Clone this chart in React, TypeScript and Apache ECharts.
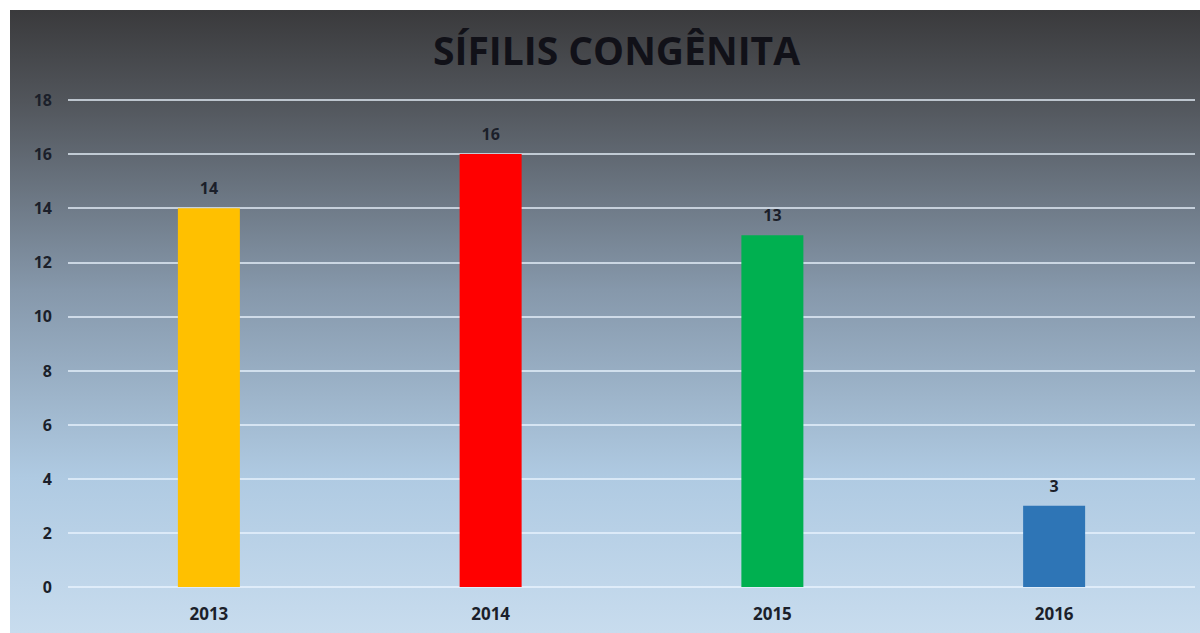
import React, { useEffect, useRef } from "react";
import * as echarts from "echarts";

const categories = ["2013", "2014", "2015", "2016"];
const values = [14, 16, 13, 3];
const barColors = ["#ffc000", "#ff0000", "#00b050", "#2e75b6"];
const yTicks = [0, 2, 4, 6, 8, 10, 12, 14, 16, 18];
const titleText = "SÍFILIS CONGÊNITA";

export default function App() {
  const ref = useRef<HTMLDivElement>(null);
  useEffect(() => {
    if (!ref.current) return;
    const chart = echarts.init(ref.current, null, { renderer: "svg" });
    const font = "'Open Sans', sans-serif";
    chart.setOption({
      animation: false,
      backgroundColor: {
        type: "linear",
        x: 0, y: 0, x2: 0, y2: 1,
        colorStops: [
          { offset: 0, color: "#3a3a3c" },
          { offset: 0.15, color: "#52565c" },
          { offset: 0.45, color: "#8698ab" },
          { offset: 0.75, color: "#afcae2" },
          { offset: 1, color: "#c8dcee" },
        ],
      },
      title: {
        text: titleText,
        left: 418,
        top: 15,
        textStyle: { fontFamily: font, fontWeight: "bold", fontSize: 39, color: "#111118" },
      },
      grid: { left: 58, right: 5, top: 90, bottom: 623 - 577 },
      xAxis: {
        type: "category",
        data: categories,
        axisLine: { show: false },
        axisTick: { show: false },
        axisLabel: { margin: 18, fontFamily: font, fontWeight: "bold", fontSize: 17, color: "#1b1f2a" },
      },
      yAxis: {
        type: "value",
        min: yTicks[0],
        max: yTicks[yTicks.length - 1],
        interval: 2,
        axisLine: { show: false },
        axisTick: { show: false },
        axisLabel: { margin: 16, fontFamily: font, fontWeight: "bold", fontSize: 16, color: "#1b1f2a" },
        splitLine: { lineStyle: { color: "rgba(235,245,255,0.7)", width: 2 } },
      },
      series: [
        {
          type: "bar",
          barWidth: 62,
          data: values.map((v, i) => ({ value: v, itemStyle: { color: barColors[i] } })),
          label: {
            show: true,
            position: "top",
            distance: 12,
            fontFamily: font,
            fontWeight: "bold",
            fontSize: 16,
            color: "#1b1f2a",
          },
        },
      ],
    });
    return () => chart.dispose();
  }, []);
  return (
    <div
      ref={ref}
      style={{ position: "absolute", left: 10, top: 10, width: 1190, height: 623 }}
    />
  );
}
